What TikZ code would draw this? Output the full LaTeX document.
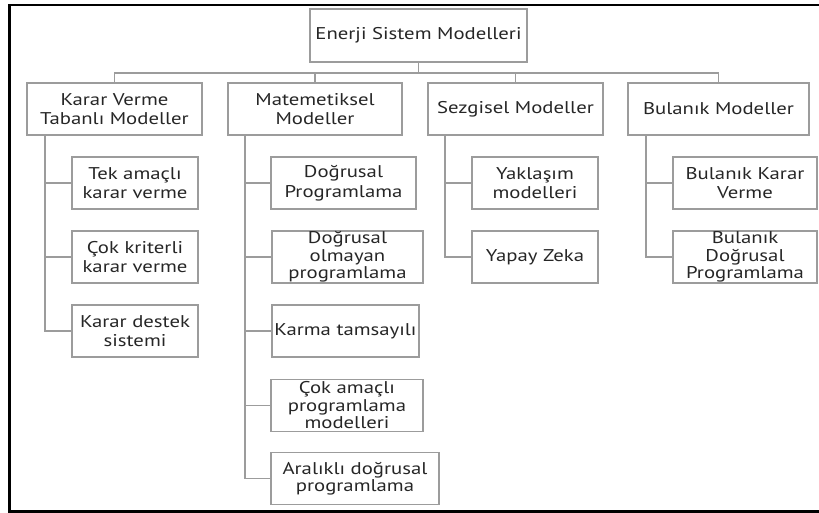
\documentclass[tikz,border=0pt]{standalone}
\usepackage{fontspec}
\setmainfont[FakeStretch=1.22]{PT Sans}
\definecolor{lg}{HTML}{9C9C9C}
\definecolor{tx}{HTML}{262626}
\tikzset{
  box/.style={draw=lg, line width=1.7pt, minimum width=#1, minimum height=52pt,
    inner sep=0pt, align=center, text=tx, font=\fontsize{17}{19.5}\selectfont},
  tight/.style={font=\fontsize{17}{17.5}\selectfont},
  wire/.style={draw=lg, line width=1.7pt},
  frame/.style={draw=black, line width=2.6pt},
}
\begin{document}
\begin{tikzpicture}[x=1pt,y=-1pt]
\useasboundingbox (0,0) rectangle (819,513);
\draw[frame] (819,5) -- (9.5,5) -- (9.5,511.5) -- (819,511.5);

% root
\node[box=217pt, minimum height=53pt] (root) at (418.5,35.5) {Enerji Sistem Modelleri};

% level 1
\node[box=175pt] (k1) at (114.5,109) {Karar Verme\\Tabanlı Modeller};
\node[box=174pt] (k2) at (315,109) {Matemetiksel\\Modeller};
\node[box=175pt] (k3) at (515.5,109) {Sezgisel Modeller};
\node[box=181pt] (k4) at (718.5,109) {Bulanık Modeller};

% level 2 - Karar
\node[box=126pt] (a1) at (135,183) {Tek amaçlı\\karar verme};
\node[box=126pt] (a2) at (135,257) {Çok kriterli\\karar verme};
\node[box=126pt] (a3) at (135,331) {Karar destek\\sistemi};

% level 2 - Matematiksel
\node[box=145pt] (b1) at (343.5,183) {Doğrusal\\Programlama};
\node[box=151pt, tight] (b2) at (347.5,257) {Doğrusal\\olmayan\\programlama};
\node[box=147pt] (b3) at (345.5,331) {Karma tamsayılı};
\node[box=152pt, tight] (b4) at (347,405.5) {Çok amaçlı\\programlama\\modelleri};
\node[box=168pt, tight] (b5) at (355,478.5) {Aralıklı doğrusal\\programlama};

% level 2 - Sezgisel
\node[box=126pt] (c1) at (535,183) {Yaklaşım\\modelleri};
\node[box=126pt] (c2) at (535,257) {Yapay Zeka};

% level 2 - Bulanik
\node[box=144pt] (d1) at (745,183) {Bulanık Karar\\Verme};
\node[box=144pt, tight] (d2) at (745,257) {Bulanık\\Doğrusal\\Programlama};

% root to level 1
\foreach \k in {k1,k2,k3,k4}
  \draw[wire] (root.south) -- ++(0,10) -| (\k.north);

% level 1 to level 2
\foreach \c in {a1,a2,a3}
  \draw[wire] ([xshift=19pt]k1.south west) |- (\c.west);
\foreach \c in {b1,b2,b3,b4,b5}
  \draw[wire] ([xshift=18pt]k2.south west) |- (\c.west);
\foreach \c in {c1,c2}
  \draw[wire] ([xshift=18pt]k3.south west) |- (\c.west);
\foreach \c in {d1,d2}
  \draw[wire] ([xshift=19pt]k4.south west) |- (\c.west);
\end{tikzpicture}
\end{document}
